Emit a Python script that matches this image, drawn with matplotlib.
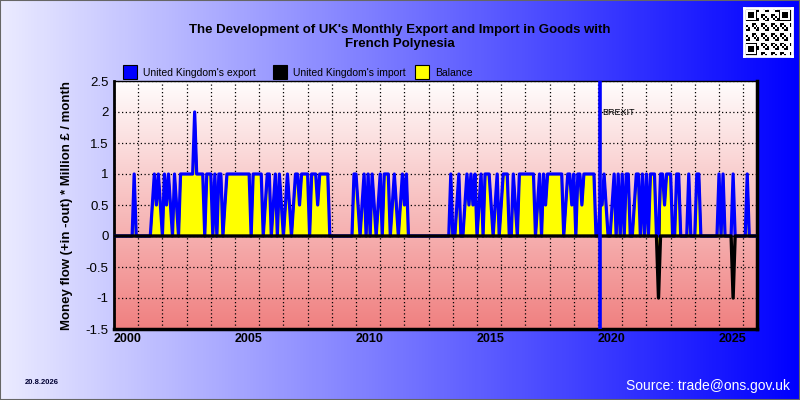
import numpy as np
import matplotlib
matplotlib.use("Agg")
import matplotlib.pyplot as plt
from matplotlib.patches import Rectangle

plt.rcParams['font.family'] = ['Liberation Sans', 'DejaVu Sans']

# ---------------- data (million GBP per month) ----------------
start_year = 2000
export_2000 = [0, 0, 0, 0, 0, 0, 0, 0, 0, 0, 1, 0]
export_2001 = [0, 0, 0, 0, 0, 0, 0, 0.5, 1, 0.5, 1, 0.5]
export_2002 = [0, 1, 0.5, 1, 0.5, 0, 1, 0.5, 0, 1, 1, 1]
export_2003 = [1, 1, 1, 1, 2, 1, 1, 1, 1, 0, 1, 1]
export_2004 = [1, 0, 1, 0, 1, 1, 0, 0.5, 1, 1, 1, 1]
export_2005 = [1, 1, 1, 1, 1, 1, 1, 1, 0, 1, 1, 1]
export_2006 = [1, 1, 0, 0.5, 1, 1, 0, 0.5, 1, 0, 1, 0.5]
export_2007 = [0, 0.5, 1, 0.5, 0, 0.5, 1, 1, 0.5, 1, 1, 1]
export_2008 = [1, 0, 1, 1, 1, 0.5, 1, 1, 1, 1, 1, 0]
export_2009 = [0, 0, 0, 0, 0, 0, 0, 0, 0, 0, 0, 1]
export_2010 = [1, 0.5, 0, 0.5, 1, 0, 1, 0, 1, 0.5, 0, 0.5]
export_2011 = [1, 0, 1, 1, 1, 0, 0.5, 1, 0.5, 0, 0.5, 1]
export_2012 = [0.5, 1, 0, 0, 0, 0, 0, 0, 0, 0, 0, 0]
export_2013 = [0, 0, 0, 0, 0, 0, 0, 0, 0, 0, 0, 1]
export_2014 = [0, 0, 0.5, 1, 0, 0, 0.5, 1, 0.5, 1, 0.5, 1]
export_2015 = [0, 0.5, 1, 0, 1, 1, 1, 0.5, 0, 0.5, 1, 0]
export_2016 = [0.5, 1, 1, 1, 0, 0, 1, 0.5, 0, 1, 1, 1]
export_2017 = [1, 1, 1, 1, 1, 0, 0.5, 1, 0, 1, 0.5, 1]
export_2018 = [1, 1, 1, 1, 1, 1, 1, 0, 0.5, 1, 1, 0.5]
export_2019 = [1, 0, 1, 1, 0.5, 1, 1, 1, 1, 1, 1, 0]
export_2020 = [0, 0.5, 0.5, 1, 0.5, 0, 0, 0.5, 1, 0, 1, 0]
export_2021 = [1, 0, 1, 1, 0, 0, 0.5, 1, 1, 0, 1, 0]
export_2022 = [1, 0, 1, 1, 1, 0, 0, 1, 1, 0.5, 1, 1]
export_2023 = [1, 0, 0, 1, 1, 0, 0, 0, 0, 1, 0, 0]
export_2024 = [0, 1, 1, 0, 0, 0, 0, 0, 0, 0, 0, 0]
export_2025 = [1, 0, 1, 0, 0, 0, 0, 1, 0, 0, 0, 0]
export_2026 = [0, 0, 1, 0, 0, 0, 0]

import_dates = [(2022, 7), (2025, 8)]     # (year, month) with non-zero imports
import_values = [1.0, 1.0]

brexit_date = 2020.08
x_tick_years = [2000, 2005, 2010, 2015, 2020, 2025]
y_ticks = [2.5, 2, 1.5, 1, 0.5, 0, -0.5, -1, -1.5]
y_tick_labels = ["2.5", "2", "1.5", "1", "0.5", "0", "-0.5", "-1", "-1.5"]

title = "The Development of UK's Monthly Export and Import in Goods with\nFrench Polynesia"
legend_labels = ["United Kingdom's export", "United Kingdom's import", "Balance"]

# ---------------- build series ----------------
export = np.array(export_2000 + export_2001 + export_2002 + export_2003 + export_2004 +
                  export_2005 + export_2006 + export_2007 + export_2008 + export_2009 +
                  export_2010 + export_2011 + export_2012 + export_2013 + export_2014 +
                  export_2015 + export_2016 + export_2017 + export_2018 + export_2019 +
                  export_2020 + export_2021 + export_2022 + export_2023 + export_2024 +
                  export_2025 + export_2026, dtype=float)
n = len(export)
imports = np.zeros(n)
for (yy, mm), v in zip(import_dates, import_values):
    imports[(yy - start_year) * 12 + mm - 1] = v
x = start_year + np.arange(n) / 12.0
balance = export - imports

# ---------------- figure ----------------
W, H = 800, 400
fig = plt.figure(figsize=(8, 4), dpi=100)

# background gradient
bg = fig.add_axes([0, 0, 1, 1], zorder=-10)
t = np.linspace(0, 1, 256)
grad = np.zeros((2, 256, 3))
grad[:, :, 0] = (235 * (1 - t)) / 255
grad[:, :, 1] = (235 * (1 - t)) / 255
grad[:, :, 2] = 1.0
bg.imshow(grad, aspect='auto', extent=[0, 1, 0, 1])
bg.set_axis_off()

def fx(px):
    return px / W

def fy(py):
    return 1 - py / H

x0, x1, ytop, ybot = 114, 757, 81, 329
ax = fig.add_axes([fx(x0), fy(ybot), (x1 - x0) / W, (ybot - ytop) / H])
xmin, xmax = 2000, 2000 + (x1 - x0) / 24.2
ymin, ymax = -1.5, 2.5

# plot background gradient (white top -> light coral bottom)
tv = np.linspace(0, 1, 256)[:, None]
pg = np.zeros((256, 2, 3))
pg[:, :, 0] = (255 - 15 * tv) / 255
pg[:, :, 1] = (253 - 125 * tv) / 255
pg[:, :, 2] = (253 - 125 * tv) / 255
ax.imshow(pg, aspect='auto', extent=[xmin, xmax, ymin, ymax], origin='upper', zorder=-5)

ax.fill_between(x, 0, balance, facecolor='#FFFF00', edgecolor='black', linewidth=0.8, zorder=2)
ax.plot(x, export, color='#0000FF', linewidth=2.3, zorder=3)
ax.plot(x, -imports, color='black', linewidth=2.4, zorder=4)
ax.axvline(brexit_date, color='#0000FF', linewidth=2.6, zorder=5)
ax.text(brexit_date + 0.1, 1.99, "BREXIT", fontsize=6.5, ha='left', va='center', zorder=6)

ax.set_xlim(xmin, xmax)
ax.set_ylim(ymin, ymax)
ax.set_xticks(np.arange(2000, 2027))
ax.set_xticklabels([str(y) if y in x_tick_years else "" for y in range(2000, 2027)],
                   fontweight='bold', fontsize=9, ha='left')
ax.set_yticks(y_ticks)
ax.set_yticklabels(y_tick_labels, fontsize=9.5)
ax.tick_params(axis='both', length=0)
ax.tick_params(axis='x', pad=3)
ax.tick_params(axis='y', pad=4)
ax.set_axisbelow(True)
ax.grid(True, color='black', linestyle=(0, (1, 2)), linewidth=0.9)
for side, lw in [('left', 2), ('bottom', 2.5), ('right', 2.5), ('top', 1)]:
    ax.spines[side].set_color('black')
    ax.spines[side].set_linewidth(lw)

# y label
fig.text(fx(67), fy(205), "Money flow (+in -out) * Million \u00a3 / month", rotation=90,
         ha='center', va='center', fontsize=9.5, fontweight='bold')

# title
fig.text(fx(400), fy(37), title, ha='center', va='center', fontsize=9.5,
         fontweight='bold', linespacing=1.15)

# legend
leg_colors = ['#0000FF', '#000000', '#FFFF00']
leg_x = [123, 273, 415]
for lx, col, lab in zip(leg_x, leg_colors, legend_labels):
    fig.add_artist(Rectangle((fx(lx), fy(79)), 14 / W, 14 / H, transform=fig.transFigure,
                             facecolor=col, edgecolor='black', linewidth=0.8))
    fig.text(fx(lx + 20), fy(73), lab, ha='left', va='center', fontsize=7.5)

# footer
fig.text(fx(25), fy(383), "20.8.2026", ha='left', va='center', fontsize=5.5,
         fontweight='bold', color='#000033')
fig.text(fx(790), fy(386), "Source: trade@ons.gov.uk", ha='right', va='center',
         fontsize=10, color='white')

# QR-like badge
qr = np.zeros((25, 25))
ii, jj = np.meshgrid(np.arange(25), np.arange(25), indexing='ij')
qr[((ii * 7 + jj * 13 + ii * jj) % 5) < 2] = 1
for (r, c) in [(0, 0), (0, 18), (18, 0)]:
    qr[r:r + 7, c:c + 7] = 1
    qr[r + 1:r + 6, c + 1:c + 6] = 0
    qr[r + 2:r + 5, c + 2:c + 5] = 1
qa = fig.add_axes([fx(744), fy(56), 48 / W, 48 / H])
qa.imshow(1 - qr, cmap='gray', vmin=0, vmax=1, interpolation='nearest', aspect='auto')
qa.set_xticks([]); qa.set_yticks([])
for s in qa.spines.values():
    s.set_edgecolor('white'); s.set_linewidth(2)

fig.add_artist(Rectangle((0, 0), 1, 1, transform=fig.transFigure, fill=False,
                         edgecolor='#666666', linewidth=1.5))

fig.savefig("out.png", dpi=100)
